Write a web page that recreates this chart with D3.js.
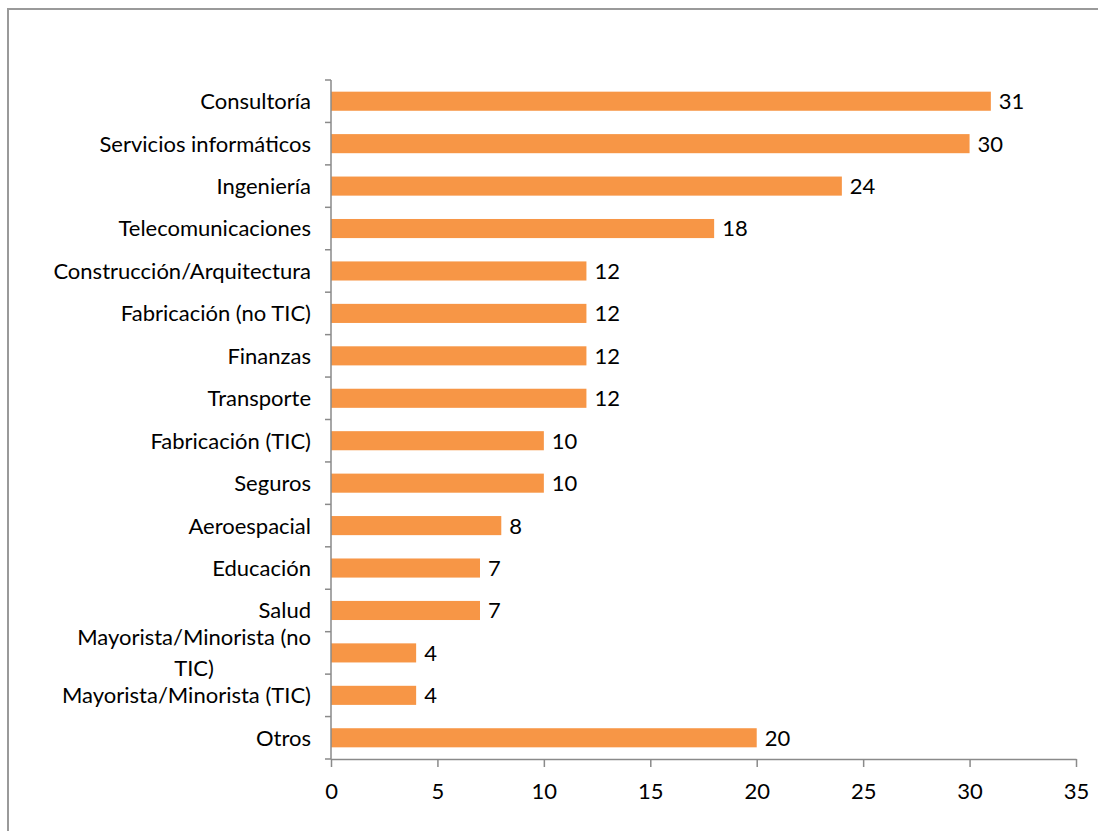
<!DOCTYPE html>
<html>
<head>
<meta charset="utf-8">
<script src="https://cdn.jsdelivr.net/npm/d3@7"></script>
<style>
  html, body { margin: 0; padding: 0; background: #fff; }
  svg { display: block; }
  text { font-family: Lato, "Open Sans", sans-serif; fill: #000; }
</style>
</head>
<body>
<svg id="chart" width="1098" height="831"></svg>
<script>
// Sectors (top to bottom) and number of responses per sector
const categories = [
  "Consultoría",
  "Servicios informáticos",
  "Ingeniería",
  "Telecomunicaciones",
  "Construcción/Arquitectura",
  "Fabricación (no TIC)",
  "Finanzas",
  "Transporte",
  "Fabricación (TIC)",
  "Seguros",
  "Aeroespacial",
  "Educación",
  "Salud",
  "Mayorista/Minorista (no TIC)",
  "Mayorista/Minorista (TIC)",
  "Otros"
];
const values = [31, 30, 24, 18, 12, 12, 12, 12, 10, 10, 8, 7, 7, 4, 4, 20];
const xTicks = [0, 5, 10, 15, 20, 25, 30, 35];

const svg = d3.select("#chart");
const margin = { left: 331, right: 1076, top: 80, bottom: 759 };
const axisColor = "#8a8a8a";
const barColor = "#F79646";
const fontSize = 22;

// Outer chart frame
svg.append("rect")
  .attr("x", 8).attr("y", 9)
  .attr("width", 1200).attr("height", 1000)
  .attr("fill", "none")
  .attr("stroke", "#9a9a9a")
  .attr("stroke-width", 2);

const x = d3.scaleLinear().domain([0, 35]).range([margin.left, margin.right]);
const y = d3.scaleBand()
  .domain(categories)
  .range([margin.top, margin.bottom])
  .paddingInner(0.55)
  .paddingOuter(0.275);

const step = y.step();
const data = categories.map((c, i) => ({ cat: c, val: values[i] }));

// Bars
svg.append("g").selectAll("rect")
  .data(data)
  .join("rect")
  .attr("x", x(0))
  .attr("y", d => y(d.cat))
  .attr("width", d => x(d.val) - x(0))
  .attr("height", y.bandwidth())
  .attr("fill", barColor);

// Value labels
svg.append("g").selectAll("text")
  .data(data)
  .join("text")
  .attr("x", d => x(d.val) + 8)
  .attr("y", d => y(d.cat) + y.bandwidth() / 2)
  .attr("dy", "0.36em")
  .attr("font-size", fontSize)
  .text(d => d.val);

// Vertical axis line and tick marks on category boundaries
const yAxisG = svg.append("g");
yAxisG.append("line")
  .attr("x1", x(0)).attr("x2", x(0))
  .attr("y1", margin.top).attr("y2", margin.bottom)
  .attr("stroke", axisColor).attr("stroke-width", 1.5);
const boundaries = categories.map(c => y(c) - step * y.paddingInner() / 2).concat([margin.bottom]);
yAxisG.selectAll("line.tick")
  .data(boundaries)
  .join("line")
  .attr("class", "tick")
  .attr("x1", x(0) - 6).attr("x2", x(0))
  .attr("y1", d => d).attr("y2", d => d)
  .attr("stroke", axisColor).attr("stroke-width", 1.5);

// Category labels
const labelX = x(0) - 20;
const labelG = svg.append("g");
data.forEach(d => {
  const cy = y(d.cat) + y.bandwidth() / 2;
  if (d.cat === "Mayorista/Minorista (no TIC)") {
    // wrapped over two lines, centred on each other
    const l1 = labelG.append("text")
      .attr("x", labelX).attr("y", cy - 15.5).attr("dy", "0.36em")
      .attr("text-anchor", "end").attr("font-size", fontSize)
      .text("Mayorista/Minorista (no");
    const w = l1.node().getComputedTextLength();
    labelG.append("text")
      .attr("x", labelX - w / 2).attr("y", cy + 15.5).attr("dy", "0.36em")
      .attr("text-anchor", "middle").attr("font-size", fontSize)
      .text("TIC)");
  } else {
    labelG.append("text")
      .attr("x", labelX).attr("y", cy).attr("dy", "0.36em")
      .attr("text-anchor", "end").attr("font-size", fontSize)
      .text(d.cat);
  }
});

// Horizontal axis
const xAxis = d3.axisBottom(x).tickValues(xTicks).tickSize(8).tickPadding(16).tickSizeOuter(0);
const xg = svg.append("g")
  .attr("transform", `translate(0,${margin.bottom})`)
  .call(xAxis);
xg.select(".domain").attr("stroke", axisColor).attr("stroke-width", 1.5);
xg.selectAll(".tick line").attr("stroke", axisColor).attr("stroke-width", 1.5);
xg.selectAll(".tick text")
  .attr("font-size", fontSize)
  .attr("font-family", "Lato, 'Open Sans', sans-serif")
  .attr("fill", "#000");
</script>
</body>
</html>
